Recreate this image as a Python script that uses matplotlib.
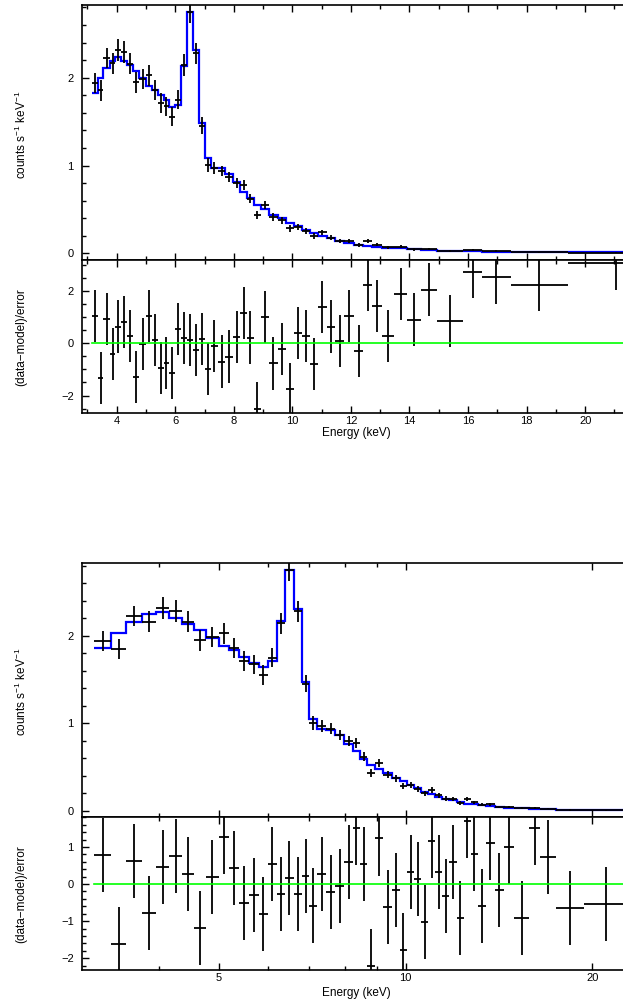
import numpy as np
import matplotlib.pyplot as plt
from matplotlib.ticker import MultipleLocator, FixedLocator, LogLocator, NullFormatter, FormatStrFormatter

plt.rcParams['font.family'] = ['Liberation Sans', 'DejaVu Sans']
plt.rcParams['mathtext.fontset'] = 'custom'
plt.rcParams['mathtext.rm'] = 'Liberation Sans'
plt.rcParams['mathtext.it'] = 'Liberation Sans:italic'
plt.rcParams['font.size'] = 8.5

# energy bin edges (keV)
edges = [3.15, 3.35, 3.55, 3.76, 3.96, 4.16, 4.36, 4.56, 4.77, 5.00,
         5.19, 5.40, 5.60, 5.80, 6.00, 6.20, 6.40, 6.60, 6.80, 7.00,
         7.21, 7.45, 7.71, 7.97, 8.22, 8.45, 8.68, 8.93, 9.21, 9.50,
         9.78, 10.05, 10.33, 10.60, 10.88, 11.17, 11.46, 11.77, 12.10, 12.42,
         12.73, 13.07, 13.47, 13.92, 14.40, 14.93, 15.84, 16.47, 17.46, 19.40, 22.7]

# measured spectrum (counts s^-1 keV^-1)
counts = [1.94, 1.855, 2.225, 2.165, 2.315, 2.29, 2.16, 1.95, 1.985, 2.03,
          1.86, 1.71, 1.675, 1.555, 1.75, 2.145, 2.75, 2.28, 1.455, 1.005,
          0.97, 0.94, 0.87, 0.80, 0.78, 0.62, 0.435, 0.55, 0.415, 0.375,
          0.285, 0.30, 0.255, 0.20, 0.24, 0.18, 0.142, 0.137, 0.092, 0.138,
          0.098, 0.07, 0.075, 0.045, 0.048, 0.03, 0.038, 0.026, 0.012, 0.006]
count_err = [0.115, 0.115, 0.115, 0.12, 0.125, 0.125, 0.12, 0.12, 0.115, 0.12,
             0.115, 0.115, 0.11, 0.11, 0.11, 0.12, 0.125, 0.12, 0.10, 0.08,
             0.065, 0.06, 0.06, 0.055, 0.055, 0.05, 0.045, 0.045, 0.042, 0.04,
             0.038, 0.036, 0.034, 0.032, 0.03, 0.028, 0.026, 0.025, 0.022, 0.021,
             0.02, 0.018, 0.016, 0.015, 0.014, 0.011, 0.011, 0.009, 0.007, 0.005]

# folded models
model_top = [1.83, 2.00, 2.11, 2.19, 2.24, 2.19, 2.14, 2.08, 2.00, 1.91,
             1.86, 1.80, 1.75, 1.67, 1.69, 2.13, 2.75, 2.31, 1.48, 1.08,
             0.97, 0.97, 0.90, 0.81, 0.70, 0.63, 0.55, 0.50, 0.44, 0.40,
             0.35, 0.31, 0.27, 0.23, 0.20, 0.17, 0.14, 0.12, 0.10, 0.087,
             0.075, 0.065, 0.055, 0.045, 0.038, 0.03, 0.025, 0.02, 0.013, 0.01]
model_bot = [1.86, 2.03, 2.16, 2.25, 2.27, 2.21, 2.14, 2.07, 1.98, 1.89,
             1.84, 1.76, 1.69, 1.64, 1.71, 2.17, 2.75, 2.31, 1.47, 1.05,
             0.94, 0.93, 0.87, 0.77, 0.68, 0.59, 0.53, 0.48, 0.43, 0.38,
             0.34, 0.30, 0.26, 0.22, 0.19, 0.16, 0.14, 0.12, 0.10, 0.085,
             0.075, 0.065, 0.055, 0.045, 0.037, 0.03, 0.024, 0.018, 0.012, 0.008]

# residuals (data-model)/error
resid_top = [1.05, -1.32, 0.93, -0.42, 0.64, 0.83, 0.28, -1.28, -0.04, 1.05,
             0.13, -0.96, -0.74, -1.15, 0.56, 0.19, 0.13, -0.27, 0.15, -0.98,
             -0.09, -0.70, -0.51, 0.23, 1.15, 0.22, -2.5, 1.02, -0.77, -0.23,
             -1.76, 0.38, 0.28, -0.79, 1.40, 0.64, 0.10, 1.06, -0.31, 2.22,
             1.43, 0.29, 1.90, 0.91, 2.06, 0.86, 2.73, 2.52, 2.25, 3.06]
resid_bot = [0.78, -1.62, 0.62, -0.78, 0.46, 0.75, 0.27, -1.18, 0.18, 1.28,
             0.44, -0.52, -0.30, -0.80, 0.55, -0.27, 0.17, -0.27, 0.22, -0.58,
             0.28, -0.21, -0.05, 0.60, 1.52, 0.54, -2.22, 1.23, -0.62, -0.15,
             -1.78, 0.32, 0.13, -1.03, 1.15, 0.33, -0.32, 0.59, -0.91, 1.70,
             0.82, -0.60, 1.11, -0.17, 1.01, -0.92, 1.52, 0.73, -0.65, -0.55]

edges = np.array(edges)
centers = 0.5 * (edges[1:] + edges[:-1])
halfw = 0.5 * np.diff(edges)

W, H = 623, 1006
fig = plt.figure(figsize=(W / 100, H / 100), dpi=100)


def box(x0, y0, x1, y1):
    # pixel box measured from the top-left corner
    return [x0 / W, 1 - y1 / H, (x1 - x0) / W, (y1 - y0) / H]


def style(ax):
    for s in ax.spines.values():
        s.set_linewidth(1.2)
    ax.tick_params(which='both', direction='in', top=True, right=True, width=1.0, labelsize=8)
    ax.tick_params(which='major', length=5)
    ax.tick_params(which='minor', length=3)
    ax.tick_params(axis='x', pad=2.5)
    ax.tick_params(axis='y', pad=6)


ek = dict(fmt='none', ecolor='black', elinewidth=1.3, capsize=0)

# ---------- top: linear energy axis ----------
ax1 = fig.add_axes(box(82, 5, 630, 260))
ax2 = fig.add_axes(box(82, 260, 630, 413))

ax1.errorbar(centers, counts, xerr=halfw, yerr=count_err, **ek)
ax1.stairs(model_top, edges, baseline=None, color='#0000ff', lw=1.6)
ax1.set_ylim(-0.076, 2.828)
ax1.yaxis.set_major_locator(MultipleLocator(1))
ax1.yaxis.set_minor_locator(MultipleLocator(0.2))

ax2.errorbar(centers, resid_top, xerr=halfw, yerr=1, **ek)
ax2.plot([edges[0], edges[-1]], [0, 0], color='#00ff00', lw=1.2)
ax2.set_ylim(-2.67, 3.19)
ax2.yaxis.set_major_locator(MultipleLocator(2))
ax2.yaxis.set_minor_locator(MultipleLocator(0.5))

for ax in (ax1, ax2):
    ax.set_xlim(2.816, 21.53)
    ax.xaxis.set_major_locator(MultipleLocator(2))
    ax.xaxis.set_minor_locator(MultipleLocator(1))
    style(ax)
ax1.tick_params(labelbottom=False)

# ---------- bottom: log energy axis ----------
ax3 = fig.add_axes(box(82, 563, 630, 817))
ax4 = fig.add_axes(box(82, 817, 630, 970))

ax3.errorbar(centers, counts, xerr=halfw, yerr=count_err, **ek)
ax3.stairs(model_bot, edges, baseline=None, color='#0000ff', lw=1.6)
ax3.set_ylim(-0.069, 2.834)
ax3.yaxis.set_major_locator(MultipleLocator(1))
ax3.yaxis.set_minor_locator(MultipleLocator(0.2))

ax4.errorbar(centers, resid_bot, xerr=halfw, yerr=1, **ek)
ax4.plot([edges[0], edges[-1]], [0, 0], color='#00ff00', lw=1.2)
ax4.set_ylim(-2.32, 1.81)
ax4.yaxis.set_major_locator(MultipleLocator(1))
ax4.yaxis.set_minor_locator(MultipleLocator(0.2))

for ax in (ax3, ax4):
    ax.set_xscale('log')
    ax.set_xlim(3.01, 23.0)
    ax.xaxis.set_major_locator(FixedLocator([5, 10, 20]))
    ax.xaxis.set_major_formatter(FormatStrFormatter('%d'))
    ax.xaxis.set_minor_locator(LogLocator(base=10, subs=np.arange(2, 10)))
    ax.xaxis.set_minor_formatter(NullFormatter())
    style(ax)
ax3.tick_params(labelbottom=False)

# labels
ylab_spec = r'counts s$^{-1}$ keV$^{-1}$'
ylab_res = '(data\u2212model)/error'
fig.text(21 / W, 1 - 135 / H, ylab_spec, rotation=90, ha='center', va='center')
fig.text(21 / W, 1 - 337 / H, ylab_res, rotation=90, ha='center', va='center')
fig.text(21 / W, 1 - 692 / H, ylab_spec, rotation=90, ha='center', va='center')
fig.text(21 / W, 1 - 894 / H, ylab_res, rotation=90, ha='center', va='center')
fig.text(356 / W, 1 - 433 / H, 'Energy (keV)', ha='center', va='center')
fig.text(356 / W, 1 - 993 / H, 'Energy (keV)', ha='center', va='center')

fig.savefig('out.png', dpi=100)
